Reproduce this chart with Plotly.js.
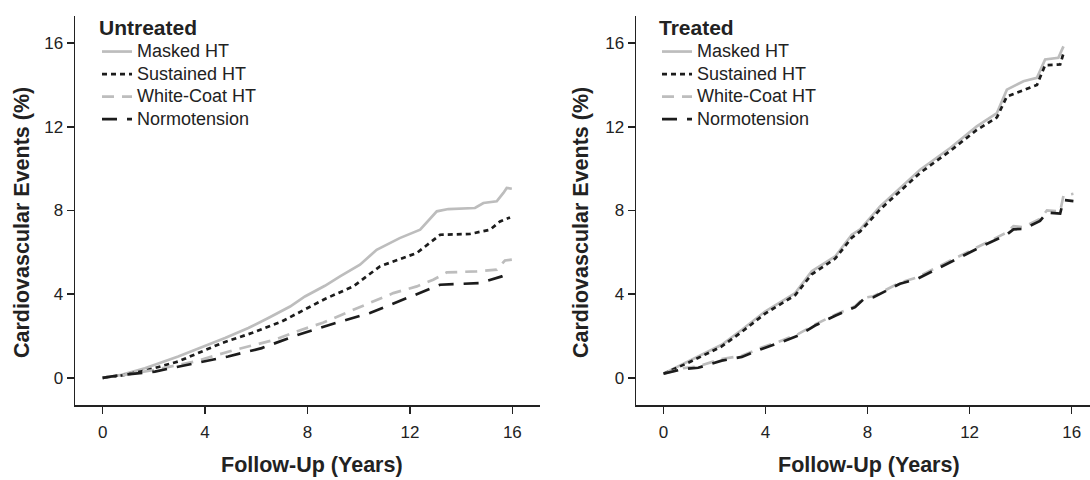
<!DOCTYPE html>
<html>
<head>
<meta charset="utf-8">
<script src="https://cdn.plot.ly/plotly-3.0.1.min.js"></script>
<style>html,body{margin:0;padding:0;background:#fff;}#chart{width:1090px;height:480px;}</style>
</head>
<body>
<div id="chart"></div>
<script>
// ---------- Data ----------
const tickVals = [0, 4, 8, 12, 16];
const seriesNames = ["Masked HT", "Sustained HT", "White-Coat HT", "Normotension"];

// Untreated panel
const untreatedMaskedT = [0, 0.74, 1.65, 2.95, 4.78, 5.69, 6.47, 7.32, 7.9, 8.68, 9.27, 10.05, 10.7, 11.6, 12.4, 13.05, 13.5, 14.54, 14.87, 15.39, 15.65, 15.78, 15.98];
const untreatedMaskedV = [0, 0.14, 0.46, 1.02, 1.9, 2.38, 2.86, 3.41, 3.89, 4.4, 4.85, 5.41, 6.12, 6.68, 7.08, 7.96, 8.07, 8.12, 8.36, 8.44, 8.84, 9.08, 9.04];
const untreatedSustainedT = [0, 0.74, 1.78, 2.95, 4.65, 5.82, 6.99, 8.68, 9.79, 10.83, 12.27, 13.18, 14.35, 15.13, 15.52, 15.91];
const untreatedSustainedV = [0, 0.11, 0.38, 0.78, 1.66, 2.14, 2.69, 3.77, 4.37, 5.33, 5.97, 6.84, 6.88, 7.08, 7.48, 7.67];
const untreatedWhiteCoatT = [0, 0.74, 2.04, 2.7, 3.6, 5.17, 6.73, 7.77, 8.6, 9.79, 11.35, 12.27, 12.91, 13.44, 14.61, 15.39, 15.71, 15.98];
const untreatedWhiteCoatV = [0, 0.12, 0.38, 0.54, 0.78, 1.34, 1.82, 2.3, 2.63, 3.25, 4.05, 4.37, 4.69, 5.04, 5.09, 5.17, 5.61, 5.65];
const untreatedNormoT = [0, 0.74, 2.04, 3.6, 4.9, 6.21, 7.64, 8.88, 10.44, 11.88, 13.18, 14.74, 15.59, 15.91];
const untreatedNormoV = [0, 0.14, 0.3, 0.7, 1.02, 1.42, 2.06, 2.54, 3.1, 3.81, 4.45, 4.53, 4.85, 5.01];

// Treated panel
const treatedMaskedT = [0, 0.97, 2.28, 3.07, 3.98, 5.16, 5.81, 6.73, 7.38, 7.71, 8.49, 10.06, 11.24, 12.28, 13.07, 13.46, 14.11, 14.64, 14.96, 15.48, 15.68];
const treatedMaskedV = [0.2, 0.78, 1.58, 2.3, 3.17, 4.05, 5.09, 5.8, 6.84, 7.1, 8.2, 9.95, 10.99, 12.02, 12.66, 13.78, 14.18, 14.34, 15.22, 15.3, 15.85];
const treatedSustainedT = [0, 0.97, 2.28, 3.07, 3.98, 5.16, 5.81, 6.73, 7.38, 7.71, 8.49, 10.06, 11.24, 12.28, 13.07, 13.46, 14.11, 14.64, 14.96, 15.55, 15.7];
const treatedSustainedV = [0.2, 0.72, 1.5, 2.2, 3.07, 3.95, 4.95, 5.7, 6.7, 7.0, 8.05, 9.8, 10.85, 11.85, 12.45, 13.45, 13.75, 14.0, 14.95, 14.98, 15.6];
const treatedWhiteCoatT = [0, 0.77, 1.36, 2.28, 3.07, 3.85, 4.64, 5.29, 5.94, 6.73, 7.51, 7.84, 8.23, 9.27, 9.93, 10.58, 11.37, 12.67, 13.46, 13.72, 14.11, 14.76, 15.03, 15.55, 15.68, 16.07];
const treatedWhiteCoatV = [0.2, 0.46, 0.55, 0.9, 1.05, 1.45, 1.78, 2.1, 2.55, 3.02, 3.42, 3.82, 3.9, 4.55, 4.8, 5.2, 5.68, 6.45, 6.95, 7.25, 7.2, 7.6, 8.0, 7.95, 8.7, 8.8];
const treatedNormoT = [0, 0.77, 1.36, 2.28, 3.07, 3.85, 4.64, 5.29, 5.94, 6.73, 7.51, 7.84, 8.23, 9.27, 9.93, 10.58, 11.37, 12.67, 13.46, 13.72, 14.11, 14.76, 15.03, 15.55, 15.68, 16.07];
const treatedNormoV = [0.2, 0.42, 0.48, 0.82, 1.0, 1.38, 1.72, 2.02, 2.5, 2.97, 3.38, 3.75, 3.85, 4.5, 4.72, 5.12, 5.6, 6.4, 6.85, 7.1, 7.12, 7.5, 7.9, 7.85, 8.5, 8.45];

// ---------- Styles ----------
const GRAY = "#bdbdbd", BLACK = "#1c1c1c";
const styles = [
  {color: GRAY, dash: "solid", width: 2.7},
  {color: BLACK, dash: "5px,4px", width: 2.7},
  {color: GRAY, dash: "12px,8px", width: 2.7},
  {color: BLACK, dash: "15px,10px", width: 2.7}
];

function mk(t, v, i, xa, ya, leg) {
  return {x: t, y: v, type: "scatter", mode: "lines",
    name: '<span style="font-size:18px">' + seriesNames[i] + '</span>',
    xaxis: xa, yaxis: ya, legend: leg, line: Object.assign({}, styles[i]), hoverinfo: "skip"};
}

const traces = [
  mk(untreatedMaskedT, untreatedMaskedV, 0, "x", "y", "legend"),
  mk(untreatedSustainedT, untreatedSustainedV, 1, "x", "y", "legend"),
  mk(untreatedWhiteCoatT, untreatedWhiteCoatV, 2, "x", "y", "legend"),
  mk(untreatedNormoT, untreatedNormoV, 3, "x", "y", "legend"),
  mk(treatedMaskedT, treatedMaskedV, 0, "x2", "y2", "legend2"),
  mk(treatedSustainedT, treatedSustainedV, 1, "x2", "y2", "legend2"),
  mk(treatedWhiteCoatT, treatedWhiteCoatV, 2, "x2", "y2", "legend2"),
  mk(treatedNormoT, treatedNormoV, 3, "x2", "y2", "legend2")
];

const FONT = "Liberation Sans, Arial, Helvetica, sans-serif";
function axisBase() {
  return {showline: true, linecolor: "#222", linewidth: 1.5, ticks: "outside", ticklen: 7,
    tickwidth: 1.5, tickcolor: "#222", showgrid: false, zeroline: false,
    tickvals: tickVals, ticktext: tickVals.map(String),
    tickfont: {family: FONT, size: 17, color: "#222"}, fixedrange: true};
}

const W = 1090, H = 480;
function legendBox(xpx, title) {
  return {x: xpx / W, y: 1 - 8 / H, xanchor: "left", yanchor: "top", bgcolor: "rgba(0,0,0,0)",
    title: {text: "<b>" + title + "</b>", font: {family: FONT, size: 21, color: "#222"}},
    font: {family: FONT, size: 15, color: "#222"}, tracegroupgap: 0};
}
const titleFont = {family: FONT, size: 21.5, color: "#222"};
const layout = {
  width: W, height: H,
  margin: {l: 0, r: 0, t: 0, b: 0},
  paper_bgcolor: "#fff", plot_bgcolor: "#fff",
  font: {family: FONT, color: "#222"},
  showlegend: true,
  xaxis: Object.assign(axisBase(), {domain: [75 / W, 540 / W], range: [-1.08, 17.08], anchor: "y", ticklabelstandoff: 4}),
  yaxis: Object.assign(axisBase(), {domain: [75 / H, 464 / H], range: [-1.3, 17.3], anchor: "x"}),
  xaxis2: Object.assign(axisBase(), {domain: [636 / W, 1], range: [-1.08, 16.72], anchor: "y2", ticklabelstandoff: 4}),
  yaxis2: Object.assign(axisBase(), {domain: [75 / H, 464 / H], range: [-1.3, 17.3], anchor: "x2"}),
  legend: legendBox(97, "Untreated"),
  legend2: legendBox(657, "Treated"),
  annotations: [
    {text: "<b>Cardiovascular Events (%)</b>", textangle: -90, xref: "paper", yref: "paper",
      x: 22 / W, y: 1 - 223 / H, xanchor: "center", yanchor: "middle", showarrow: false, font: titleFont},
    {text: "<b>Cardiovascular Events (%)</b>", textangle: -90, xref: "paper", yref: "paper",
      x: 581 / W, y: 1 - 223 / H, xanchor: "center", yanchor: "middle", showarrow: false, font: titleFont},
    {text: "<b>Follow-Up (Years)</b>", xref: "paper", yref: "paper",
      x: 312 / W, y: 1 - 465 / H, xanchor: "center", yanchor: "middle", showarrow: false, font: titleFont},
    {text: "<b>Follow-Up (Years)</b>", xref: "paper", yref: "paper",
      x: 869 / W, y: 1 - 465 / H, xanchor: "center", yanchor: "middle", showarrow: false, font: titleFont}
  ]
};

Plotly.newPlot("chart", traces, layout, {displayModeBar: false, staticPlot: true});
</script>
</body>
</html>
